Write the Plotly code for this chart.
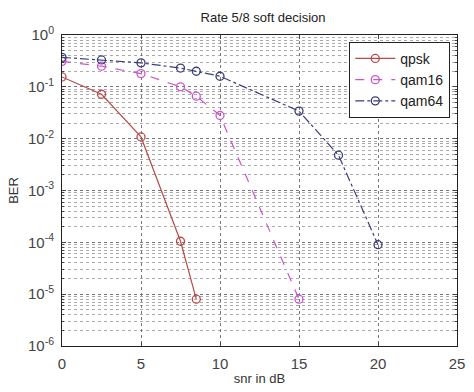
import plotly.graph_objects as go

qpsk_x = [0, 2.5, 5, 7.5, 8.5]
qpsk_y = [0.155, 0.072, 0.0108, 1.05e-4, 8e-6]
qam16_x = [0, 2.5, 5, 7.5, 8.5, 10, 15]
qam16_y = [0.31, 0.25, 0.18, 0.10, 0.066, 0.028, 8e-6]
qam64_x = [0, 2.5, 5, 7.5, 8.5, 10, 15, 17.5, 20]
qam64_y = [0.37, 0.33, 0.29, 0.23, 0.20, 0.16, 0.034, 0.0048, 9e-5]

x_ticks = [0, 5, 10, 15, 20, 25]
y_tickvals = [1, 1e-1, 1e-2, 1e-3, 1e-4, 1e-5, 1e-6]
y_ticktext = ["10<sup>0</sup>", "10<sup>-1</sup>", "10<sup>-2</sup>", "10<sup>-3</sup>",
              "10<sup>-4</sup>", "10<sup>-5</sup>", "10<sup>-6</sup>"]

fig = go.Figure()
series = [
    ("qpsk", qpsk_x, qpsk_y, "#b84a4a", "solid"),
    ("qam16", qam16_x, qam16_y, "#cc55cc", "dash"),
    ("qam64", qam64_x, qam64_y, "#3a3f78", "dashdot"),
]
for name, xs, ys, col, dash in series:
    fig.add_trace(go.Scatter(
        x=xs, y=ys, name=name, mode="lines+markers",
        line=dict(color=col, width=1.2, dash=dash),
        marker=dict(symbol="circle-open", size=8, color=col, line=dict(width=1.3, color=col)),
    ))

font = "Liberation Sans, Arial, sans-serif"
fig.update_layout(
    width=474, height=392,
    margin=dict(l=62, r=9, t=35, b=44),
    paper_bgcolor="white", plot_bgcolor="white",
    font=dict(family=font, size=13, color="#333333"),
    title=dict(text="Rate 5/8 soft decision", x=0.555, xanchor="center", y=0.955, yanchor="middle",
               font=dict(size=13, color="#222222")),
    legend=dict(x=0.983, y=0.978, xanchor="right", yanchor="top",
                bordercolor="#222222", borderwidth=1, bgcolor="white",
                font=dict(size=14, color="#222222"), itemwidth=40, tracegroupgap=0),
    showlegend=True,
)
fig.update_xaxes(
    range=[0, 25], tickvals=x_ticks, ticks="inside", ticklen=4, mirror="ticks",
    showline=True, linecolor="#222222", linewidth=1,
    showgrid=True, gridcolor="#777777", griddash="dot", gridwidth=1,
    zeroline=False, tickfont=dict(size=15, color="#444444"), ticklabelstandoff=4,
    title=dict(text="snr in dB", font=dict(size=13, color="#333333"), standoff=2),
)
fig.update_yaxes(
    type="log", range=[-6, 0], tickvals=y_tickvals, ticktext=y_ticktext,
    ticks="inside", ticklen=4, mirror="ticks",
    showline=True, linecolor="#222222", linewidth=1,
    showgrid=True, gridcolor="#777777", griddash="dot", gridwidth=1,
    minor=dict(dtick="D1", showgrid=True, gridcolor="#aaaaaa", griddash="dot", ticks="inside", ticklen=2),
    zeroline=False, tickfont=dict(size=15, color="#444444"), ticklabelstandoff=4,
    title=dict(text="BER", font=dict(size=13, color="#333333"), standoff=6),
)
fig.write_html("out.html")
